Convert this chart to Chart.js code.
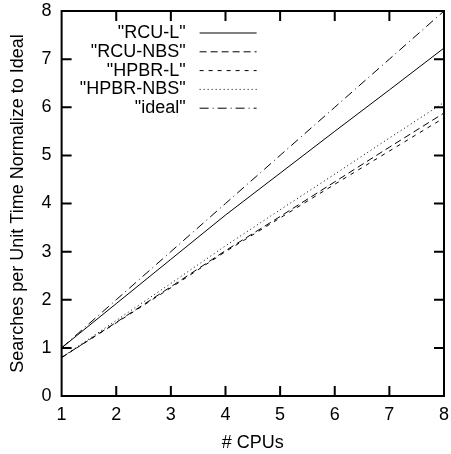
<!DOCTYPE html>
<html>
<head>
<meta charset="utf-8">
<script src="https://cdn.jsdelivr.net/npm/chart.js@4"></script>
<style>
  html, body { margin: 0; padding: 0; background: #fff; }
  #wrap { width: 451px; height: 454px; }
</style>
</head>
<body>
<div id="wrap"><canvas id="c" width="451" height="454"></canvas></div>
<script>
'use strict';

// x = # CPUs, y = searches per unit time normalized to ideal
const CPUS      = [1, 2, 3, 4, 5, 6, 7, 8];
const RCU_L     = [1.00, 1.92, 2.84, 3.76, 4.63, 5.50, 6.36, 7.23];
const RCU_NBS   = [0.80, 1.53, 2.27, 3.02, 3.73, 4.45, 5.17, 5.88];
const HPBR_L    = [0.80, 1.52, 2.25, 3.00, 3.70, 4.40, 5.09, 5.78];
const HPBR_NBS  = [0.80, 1.57, 2.34, 3.12, 3.87, 4.61, 5.36, 6.10];
const IDEAL     = [1, 2, 3, 4, 5, 6, 7, 8];

const SERIES_LABELS = ['"RCU-L"', '"RCU-NBS"', '"HPBR-L"', '"HPBR-NBS"', '"ideal"'];
const SERIES_DATA   = [RCU_L, RCU_NBS, HPBR_L, HPBR_NBS, IDEAL];
const SERIES_DASH   = [[], [7, 4], [4, 5], [1, 3], [9, 4, 1, 4]];

const FONT = {family: '"Liberation Sans", Arial, sans-serif', size: 18};

// gnuplot-ish frame, inward mirrored ticks and key
const gnuplotFrame = {
  id: 'gnuplotFrame',
  afterDatasetsDraw(chart) {
    const {ctx, chartArea: a, scales: {x, y}} = chart;
    ctx.save();
    ctx.strokeStyle = '#000';
    ctx.lineWidth = 2;
    ctx.setLineDash([]);
    ctx.strokeRect(a.left, a.top, a.right - a.left, a.bottom - a.top);
    const len = 10;
    ctx.beginPath();
    for (const v of CPUS.slice(1, -1)) {
      const px = x.getPixelForValue(v);
      ctx.moveTo(px, a.bottom); ctx.lineTo(px, a.bottom - len);
      ctx.moveTo(px, a.top);    ctx.lineTo(px, a.top + len);
    }
    for (let v = 1; v < 8; v++) {
      const py = y.getPixelForValue(v);
      ctx.moveTo(a.left, py);  ctx.lineTo(a.left + len, py);
      ctx.moveTo(a.right, py); ctx.lineTo(a.right - len, py);
    }
    ctx.stroke();

    // key
    ctx.font = FONT.size + 'px ' + FONT.family;
    ctx.fillStyle = '#000';
    ctx.textAlign = 'right';
    ctx.textBaseline = 'middle';
    chart.data.datasets.forEach((ds, i) => {
      const ky = a.top + 22 + i * 18.8;
      ctx.fillText(ds.label, a.left + 124, ky);
      ctx.beginPath();
      ctx.lineWidth = 1;
      ctx.setLineDash(ds.borderDash);
      ctx.moveTo(a.left + 138, ky);
      ctx.lineTo(a.left + 195, ky);
      ctx.stroke();
    });
    ctx.restore();
  },
};

new Chart(document.getElementById('c'), {
  type: 'line',
  data: {
    datasets: SERIES_LABELS.map((label, i) => ({
      label,
      data: CPUS.map((c, j) => ({x: c, y: SERIES_DATA[i][j]})),
      borderColor: '#000',
      borderWidth: 1,
      borderDash: SERIES_DASH[i],
      pointRadius: 0,
      tension: 0,
      fill: false,
    })),
  },
  options: {
    responsive: false,
    animation: false,
    layout: {padding: {left: 7, right: 7, top: 11, bottom: 0}},
    plugins: {legend: {display: false}, tooltip: {enabled: false}},
    scales: {
      x: {
        type: 'linear', min: 1, max: 8,
        grid: {display: false, drawTicks: false},
        border: {display: false},
        ticks: {stepSize: 1, color: '#000', font: FONT, padding: 8},
        title: {display: true, text: '# CPUs', color: '#000', font: FONT, padding: {top: 4, bottom: 0}},
        afterFit: scale => { scale.height = 58; scale.paddingRight = 0; scale.paddingLeft = 0; },
      },
      y: {
        min: 0, max: 8,
        grid: {display: false, drawTicks: false},
        border: {display: false},
        ticks: {stepSize: 1, color: '#000', font: FONT, padding: 10},
        title: {display: true, text: 'Searches per Unit Time Normalize to Ideal', color: '#000', font: FONT, padding: {top: 0, bottom: 3}},
        afterFit: scale => { scale.paddingTop = 0; scale.paddingBottom = 0; },
      },
    },
  },
  plugins: [gnuplotFrame],
});
</script>
</body>
</html>
